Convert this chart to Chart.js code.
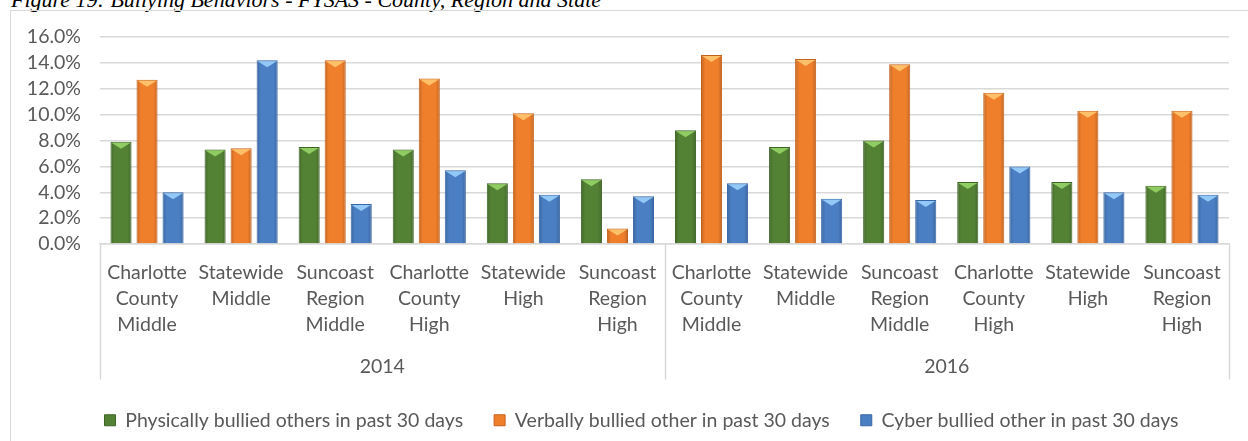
<!DOCTYPE html>
<html>
<head>
<meta charset="utf-8">
<script src="https://cdn.jsdelivr.net/npm/chart.js@4.4.1/dist/chart.umd.min.js"></script>
<style>
  html, body { margin: 0; padding: 0; background: #fff; width: 1248px; height: 441px; overflow: hidden; }
  #caption {
    position: absolute; left: 11px; top: -11px; white-space: nowrap;
    font: italic 22px/22px "Liberation Serif", "Times New Roman", serif; color: #000;
  }
  #frame {
    position: absolute; left: 10px; top: 10px; width: 1300px; height: 500px;
    border: 1.5px solid #d9d9d9; box-sizing: border-box;
  }
  #wrap { position: absolute; left: 0; top: 0; width: 1248px; height: 441px; }
</style>
</head>
<body>
<div id="caption">Figure 19: Bullying Behaviors - FYSAS - County, Region and State</div>
<div id="frame"></div>
<div id="wrap"><canvas id="c"></canvas></div>
<script>
// Survey groups (multi-line category labels), grouped by survey year
const categories = [
  ['Charlotte', 'County', 'Middle'], ['Statewide', 'Middle'], ['Suncoast', 'Region', 'Middle'],
  ['Charlotte', 'County', 'High'], ['Statewide', 'High'], ['Suncoast', 'Region', 'High'],
  ['Charlotte', 'County', 'Middle'], ['Statewide', 'Middle'], ['Suncoast', 'Region', 'Middle'],
  ['Charlotte', 'County', 'High'], ['Statewide', 'High'], ['Suncoast', 'Region', 'High']
];
const years = ['2014', '2016'];

// Percent of students reporting each behaviour
const physically = [7.9, 7.3, 7.5, 7.3, 4.7, 5.0, 8.8, 7.5, 8.0, 4.8, 4.8, 4.5];
const verbally   = [12.7, 7.4, 14.2, 12.8, 10.1, 1.2, 14.6, 14.3, 13.9, 11.7, 10.3, 10.3];
const cyber      = [4.0, 14.2, 3.1, 5.7, 3.8, 3.7, 4.7, 3.5, 3.4, 6.0, 4.0, 3.8];

const seriesNames = [
  'Physically bullied others in past 30 days',
  'Verbally bullied other in past 30 days',
  'Cyber bullied other in past 30 days'
];

// Axis range (percent)
const yMin = 0, yMax = 16, yStep = 2;

// Bar colours: body, edge, top facet
const palette = [
  { body: '#548235', edge: '#3f6427', top: '#8fcc62' },
  { body: '#f07f2c', edge: '#c4611c', top: '#ffc06a' },
  { body: '#4a7fc4', edge: '#3866a6', top: '#92c9f6' }
];

const textColor = '#595959';
const lineColor = '#d9d9d9';
const fontFamily = 'Lato, "Open Sans", sans-serif';
const fontSize = 19.5;
const legendShift = 17;

// Bevelled look: darker side shading plus a light triangular facet on top
const bevel = {
  id: 'bevel',
  afterDatasetsDraw(chart) {
    const ctx = chart.ctx;
    chart.data.datasets.forEach((ds, i) => {
      const meta = chart.getDatasetMeta(i);
      const col = palette[i];
      meta.data.forEach(bar => {
        const { x, y, base, width } = bar.getProps(['x', 'y', 'base', 'width'], true);
        const l = x - width / 2, r = x + width / 2, h = base - y;
        ctx.save();
        const g = ctx.createLinearGradient(l, 0, r, 0);
        g.addColorStop(0, 'rgba(0,0,0,0.20)');
        g.addColorStop(0.2, 'rgba(0,0,0,0)');
        g.addColorStop(0.8, 'rgba(0,0,0,0)');
        g.addColorStop(1, 'rgba(0,0,0,0.20)');
        ctx.fillStyle = g;
        ctx.fillRect(l + 1, y + 1, width - 2, h - 1);
        const th = Math.min(7, h - 1);
        ctx.beginPath();
        ctx.moveTo(l + 1, y + 1);
        ctx.lineTo(r - 1, y + 1);
        ctx.lineTo(x, y + th);
        ctx.closePath();
        ctx.fillStyle = col.top;
        ctx.fill();
        ctx.restore();
      });
    });
  }
};

// Frame lines separating the two survey years below the plot
const yearFrame = {
  id: 'yearFrame',
  afterDraw(chart) {
    const xs = chart.scales.x, x2 = chart.scales.x2, ctx = chart.ctx;
    const top = chart.chartArea.bottom;
    const bottom = x2.bottom;
    const mid = (xs.getPixelForTick(5) + xs.getPixelForTick(6)) / 2;
    ctx.save();
    ctx.strokeStyle = lineColor;
    ctx.lineWidth = 1.5;
    [xs.left, mid, xs.right].forEach(px => {
      ctx.beginPath();
      ctx.moveTo(Math.round(px) + 0.5, top);
      ctx.lineTo(Math.round(px) + 0.5, bottom);
      ctx.stroke();
    });
    ctx.restore();
  }
};

// Legend row sits slightly right of the canvas centre, under the plot
const legendOffset = {
  id: 'legendOffset',
  afterLayout(chart) {
    if (chart.legend) {
      chart.legend.left += legendShift;
      chart.legend.right += legendShift;
    }
  }
};

const series = [physically, verbally, cyber];

new Chart(document.getElementById('c'), {
  type: 'bar',
  data: {
    labels: categories,
    datasets: series.map((vals, i) => ({
      label: seriesNames[i],
      data: vals,
      backgroundColor: palette[i].body,
      borderColor: palette[i].edge,
      borderWidth: 1,
      categoryPercentage: 0.83,
      barPercentage: 0.81,
      xAxisID: 'x'
    }))
  },
  options: {
    responsive: true,
    maintainAspectRatio: false,
    animation: false,
    layout: { padding: { top: 37, left: 20, right: 19, bottom: 1 } },
    plugins: {
      legend: {
        position: 'bottom',
        labels: {
          color: textColor,
          font: { family: fontFamily, size: fontSize },
          boxWidth: 11,
          boxHeight: 11,
          padding: 31
        }
      },
      tooltip: { enabled: false },
      title: { display: false }
    },
    scales: {
      x: {
        type: 'category',
        position: 'bottom',
        offset: true,
        grid: { display: false },
        border: { display: true, color: lineColor, width: 1.5 },
        ticks: {
          color: textColor,
          font: { family: fontFamily, size: fontSize, lineHeight: 1.33 },
          padding: 8,
          maxRotation: 0,
          autoSkip: false
        },
        afterFit(scale) { scale.height = 98.5; }
      },
      x2: {
        type: 'category',
        position: 'bottom',
        labels: years,
        offset: true,
        grid: { display: false },
        border: { display: false },
        ticks: {
          color: textColor,
          font: { family: fontFamily, size: fontSize, lineHeight: 1.33 },
          padding: 3,
          maxRotation: 0
        },
        afterFit(scale) { scale.height = 37; }
      },
      y: {
        min: yMin,
        max: yMax,
        grid: { color: lineColor, lineWidth: 1.5, drawTicks: false },
        border: { display: false },
        ticks: {
          stepSize: yStep,
          autoSkip: false,
          color: textColor,
          font: { family: fontFamily, size: fontSize },
          padding: 19,
          callback: v => v.toFixed(1) + '%'
        },
        afterFit(scale) { scale.width = 80; }
      }
    }
  },
  plugins: [bevel, yearFrame, legendOffset]
});
</script>
</body>
</html>
